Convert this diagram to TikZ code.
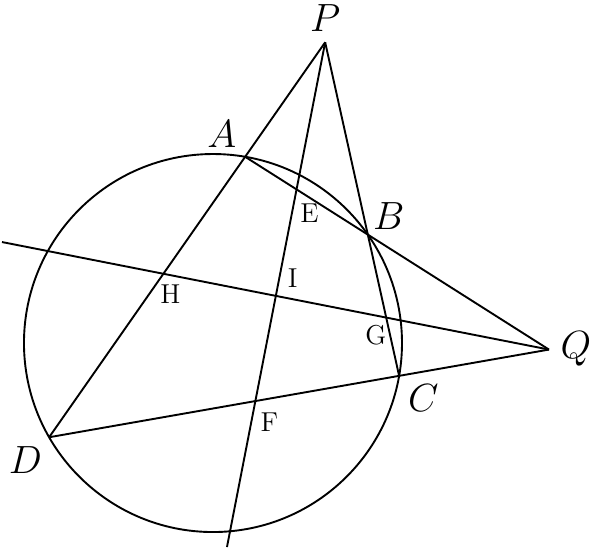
\documentclass[tikz,border=0pt]{standalone}
\usepackage{amsmath}
\usepackage{tikz}

\begin{document}
\begin{tikzpicture}[line width=1pt,
        ptlabel/.style={inner sep=0pt,font=\huge},
        crosslabel/.style={inner sep=0pt,font=\Large}]
                \useasboundingbox (-3.944,-3.833) rectangle (7.111,6.352);
                % points on the circle
                \coordinate (O) at (0,0);
                \coordinate (A) at (80.2:3.5);
                \coordinate (B) at (35:3.5);
                \coordinate (C) at (-10:3.5);
                \coordinate (D) at (209.9:3.5);
                \coordinate (P) at (intersection of A--D and B--C);
                \coordinate (Q) at (intersection of A--B and D--C);
                % free ends
                \coordinate (L) at (-3.907,1.870);
                \coordinate (M) at (0.259,-3.778);
                % crossings
                \coordinate (E) at (intersection of A--B and P--M);
                \coordinate (F) at (intersection of D--C and P--M);
                \coordinate (G) at (intersection of B--C and L--Q);
                \coordinate (H) at (intersection of A--D and L--Q);
                \coordinate (I) at (intersection of P--M and L--Q);
                \draw (O) circle (3.5);
                \draw (P) -- (D);
                \draw (P) -- (C);
                \draw (P) -- (M);
                \draw (A) -- (Q);
                \draw (D) -- (Q);
                \draw (L) -- (Q);
                \node[ptlabel] (lP) at ([shift={(0,0.44)}]P) {$P$};
                \node[ptlabel] (lA) at ([shift={(-0.43,0.42)}]A) {$A$};
                \node[ptlabel] (lB) at ([shift={(0.39,0.35)}]B) {$B$};
                \node[ptlabel] (lC) at ([shift={(0.45,-0.41)}]C) {$C$};
                \node[ptlabel] (lD) at ([shift={(-0.44,-0.43)}]D) {$D$};
                \node[ptlabel] (lQ) at ([shift={(0.5,0.02)}]Q) {$Q$};
                \node[crosslabel] (lE) at ([shift={(0.24,-0.45)}]E) {E};
                \node[crosslabel] (lF) at ([shift={(0.26,-0.40)}]F) {F};
                \node[crosslabel] (lG) at ([shift={(-0.19,-0.32)}]G) {G};
                \node[crosslabel] (lH) at ([shift={(0.13,-0.37)}]H) {H};
                \node[crosslabel] (lI) at ([shift={(0.31,0.33)}]I) {I};
            \end{tikzpicture}
\end{document}
